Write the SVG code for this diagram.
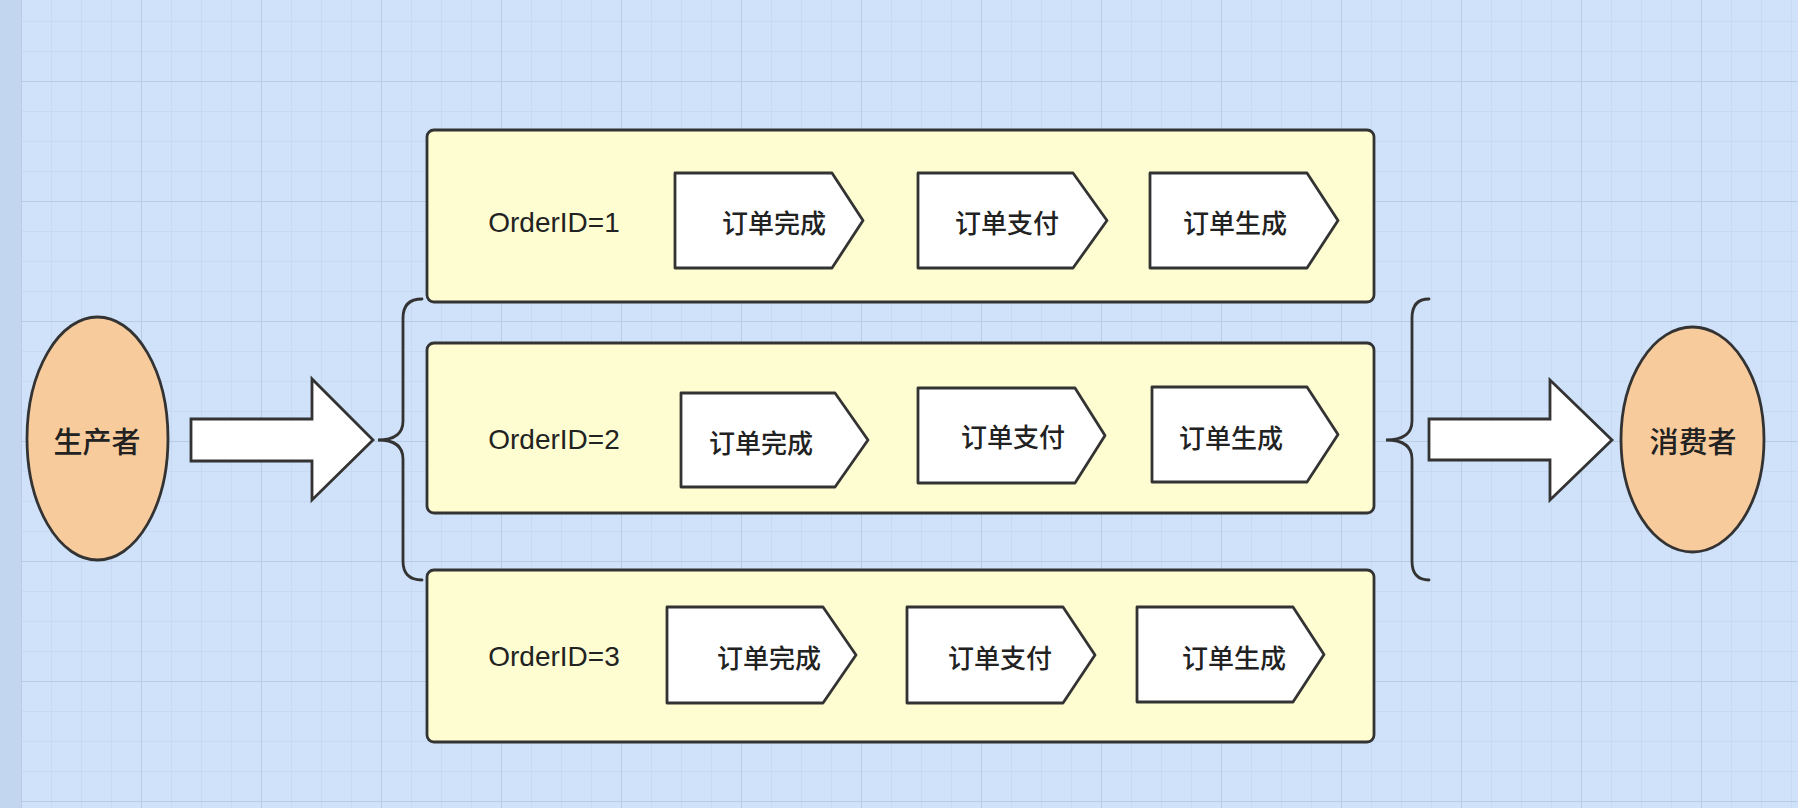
<svg xmlns="http://www.w3.org/2000/svg" width="1798" height="808" viewBox="0 0 1798 808">
<style>
.box{fill:#fefdd1;stroke:#333;stroke-width:2.8}
.pent{fill:#fff;stroke:#333;stroke-width:2.8;stroke-linejoin:round}
.ell{fill:#f7cb9c;stroke:#333;stroke-width:2.8}
.barrow{fill:#fff;stroke:#333;stroke-width:2.8;stroke-linejoin:miter}
.brace{fill:none;stroke:#333;stroke-width:2.8;stroke-linecap:round}
.oid{font-family:"Liberation Sans",Arial,sans-serif;font-size:28px;fill:#222;text-anchor:middle}
.cn{font-family:"Noto Sans CJK SC",sans-serif;font-size:26px;font-weight:500;fill:#222;text-anchor:middle;dominant-baseline:central}
.big{font-family:"Noto Sans CJK SC",sans-serif;font-size:29px;font-weight:500;fill:#222;text-anchor:middle;dominant-baseline:central}
</style>
<defs>
<pattern id="minor" x="21" y="21" width="30" height="30" patternUnits="userSpaceOnUse">
<path d="M0,0 H30 M0,0 V30" fill="none" stroke="#c5d8f0" stroke-width="1.5"/>
</pattern>
<pattern id="major" x="21" y="81" width="120" height="120" patternUnits="userSpaceOnUse">
<path d="M0,0 H120 M0,0 V120" fill="none" stroke="#b9cce6" stroke-width="2"/>
</pattern>
</defs>
<rect width="1798" height="808" fill="#cfe2f9"/>
<rect x="21" width="1777" height="808" fill="url(#minor)"/>
<rect x="21" width="1777" height="808" fill="url(#major)"/>
<rect width="21" height="808" fill="#c3d6ef"/>

<g id="producer">
<ellipse class="ell" cx="97.5" cy="438.5" rx="70.5" ry="121.5"/>
<text class="big" x="97" y="440">生产者</text>
</g>

<g id="consumer">
<ellipse class="ell" cx="1692.5" cy="439.5" rx="71.5" ry="112.5"/>
<text class="big" x="1693" y="440">消费者</text>
</g>

<g id="connectors">
<polygon class="barrow" points="191,419 312,419 312,379 373,440 312,500 312,461 191,461"/>
<polygon class="barrow" points="1429,419 1550,419 1550,380 1612,440 1550,500 1550,460 1429,460"/>
<path class="brace" d="M422,299 Q403,299 403,318 L403,421 Q403,440 378,440 Q403,440 403,459 L403,561 Q403,580 422,580"/>
<path class="brace" d="M1429,299 Q1412,299 1412,318 L1412,421 Q1412,440 1386,440 Q1412,440 1412,459 L1412,561 Q1412,580 1429,580"/>
</g>

<g id="queue1">
<rect class="box" x="427" y="130" width="947" height="172" rx="7"/>
<text class="oid" x="554" y="232">OrderID=1</text>
</g>
<g id="q1-complete">
<polygon class="pent" points="675,173 832,173 863,220.5 832,268 675,268"/>
<text class="cn" x="774" y="221">订单完成</text>
</g>
<g id="q1-pay">
<polygon class="pent" points="918,173 1073,173 1107,220.5 1073,268 918,268"/>
<text class="cn" x="1007" y="221">订单支付</text>
</g>
<g id="q1-create">
<polygon class="pent" points="1150,173 1307,173 1338,220.5 1307,268 1150,268"/>
<text class="cn" x="1235" y="221">订单生成</text>
</g>

<g id="queue2">
<rect class="box" x="427" y="343" width="947" height="170" rx="7"/>
<text class="oid" x="554" y="449">OrderID=2</text>
</g>
<g id="q2-complete">
<polygon class="pent" points="681,393 835,393 868,440 835,487 681,487"/>
<text class="cn" x="761" y="441">订单完成</text>
</g>
<g id="q2-pay">
<polygon class="pent" points="918,388 1075,388 1105,435.5 1075,483 918,483"/>
<text class="cn" x="1013" y="435.5">订单支付</text>
</g>
<g id="q2-create">
<polygon class="pent" points="1152,387 1307,387 1338,434.5 1307,482 1152,482"/>
<text class="cn" x="1231" y="436">订单生成</text>
</g>

<g id="queue3">
<rect class="box" x="427" y="570" width="947" height="172" rx="7"/>
<text class="oid" x="554" y="666">OrderID=3</text>
</g>
<g id="q3-complete">
<polygon class="pent" points="667,607 823,607 856,655 823,703 667,703"/>
<text class="cn" x="769" y="656">订单完成</text>
</g>
<g id="q3-pay">
<polygon class="pent" points="907,607 1063,607 1095,655 1063,703 907,703"/>
<text class="cn" x="1000" y="656">订单支付</text>
</g>
<g id="q3-create">
<polygon class="pent" points="1137,607 1293,607 1324,654.5 1293,702 1137,702"/>
<text class="cn" x="1234" y="656">订单生成</text>
</g>
</svg>
